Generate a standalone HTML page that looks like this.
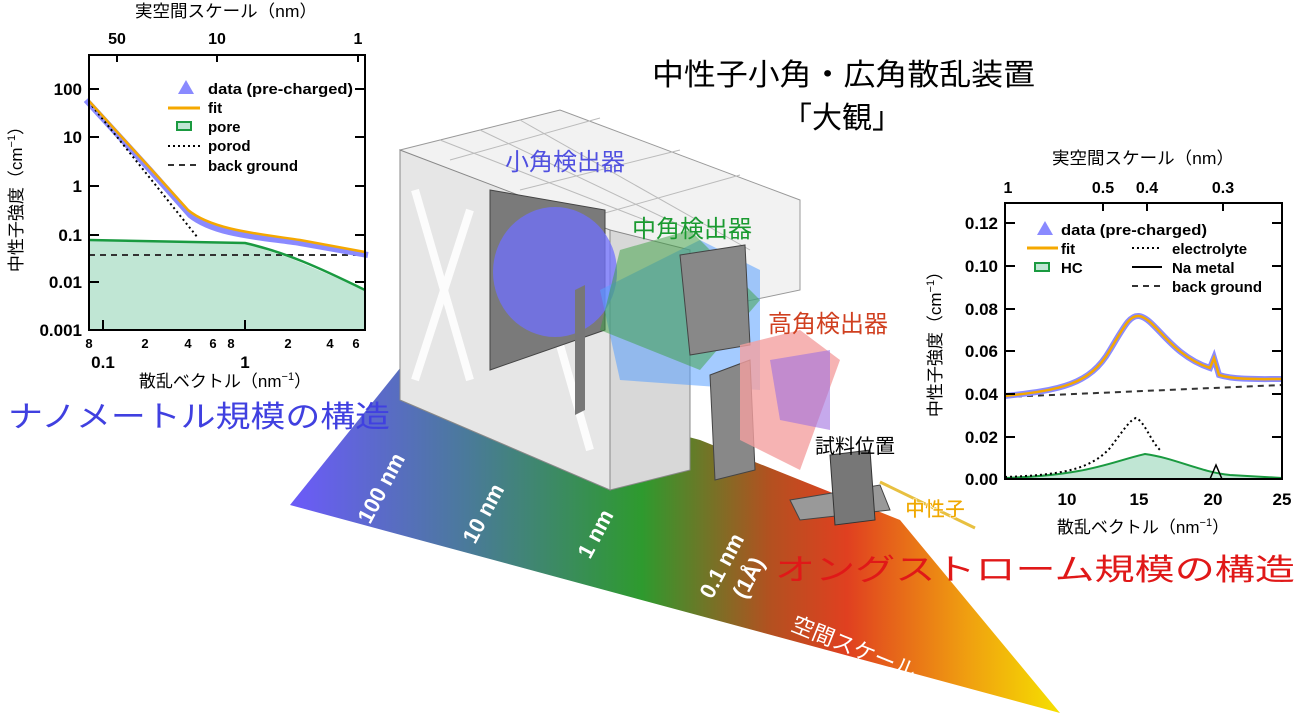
<!DOCTYPE html>
<html><head><meta charset="utf-8"><style>
html,body{margin:0;padding:0;background:#fff;}
svg{display:block;}
text{font-family:"Liberation Sans","Noto Sans CJK JP",sans-serif;}
</style></head><body>
<svg width="1299" height="713" viewBox="0 0 1299 713" xmlns="http://www.w3.org/2000/svg">
<defs>
<linearGradient id="fan" x1="300" y1="0" x2="1060" y2="0" gradientUnits="userSpaceOnUse">
<stop offset="0" stop-color="#6a5cf5"/>
<stop offset="0.22" stop-color="#4a7a9a"/>
<stop offset="0.45" stop-color="#2e9a2e"/>
<stop offset="0.62" stop-color="#b45020"/>
<stop offset="0.72" stop-color="#e04020"/>
<stop offset="0.88" stop-color="#f0a010"/>
<stop offset="1" stop-color="#f5e000"/>
</linearGradient>
</defs>

<polygon points="405,362 700,440 900,520 1060,713 290,505" fill="url(#fan)"/>

<polygon points="400,150 560,110 800,200 800,290 610,330" fill="#f2f2f2" stroke="#999" stroke-width="1"/>
<g stroke="#bbb" stroke-width="1">
<line x1="440" y1="140" x2="650" y2="222"/><line x1="480" y1="130" x2="700" y2="235"/>
<line x1="520" y1="120" x2="750" y2="250"/><line x1="450" y1="160" x2="600" y2="118"/>
<line x1="520" y1="190" x2="680" y2="150"/><line x1="580" y1="220" x2="740" y2="175"/>
</g>
<polygon points="400,150 610,230 610,490 400,400" fill="#e6e6e6" stroke="#888"/>
<polygon points="610,230 690,250 690,470 610,490" fill="#d8d8d8" stroke="#888"/>
<g stroke="#fff" stroke-width="8" opacity="0.9">
<line x1="415" y1="190" x2="470" y2="380"/><line x1="470" y1="210" x2="415" y2="380"/>
<line x1="530" y1="240" x2="590" y2="450"/>
</g>
<polygon points="490,190 605,210 605,330 490,370" fill="#7a7a7a" stroke="#444"/>
<ellipse cx="555" cy="272" rx="62" ry="65" fill="#7070ff" opacity="0.75"/>
<polygon points="600,290 700,240 760,270 760,390 620,380" fill="#5aa0ff" opacity="0.55"/>
<polygon points="620,250 690,230 760,300 700,370 600,330" fill="#3aa040" opacity="0.5"/>
<polygon points="680,255 745,245 750,345 690,355" fill="#888" stroke="#444"/>
<polygon points="575,290 585,285 585,410 575,415" fill="#777"/>
<polygon points="710,375 750,360 755,470 715,480" fill="#888" stroke="#444"/>
<polygon points="740,345 800,330 840,360 800,470 740,440" fill="#f4a0a0" opacity="0.8"/>
<polygon points="770,360 830,350 830,430 780,420" fill="#a070e0" opacity="0.6"/>
<polygon points="790,500 880,485 890,510 800,520" fill="#999" stroke="#444"/>
<polygon points="830,455 870,450 875,520 835,525" fill="#777" stroke="#333"/>
<line x1="880" y1="482" x2="975" y2="528" stroke="#e8c040" stroke-width="3"/>

<text x="652" y="85" font-size="30" textLength="383" lengthAdjust="spacingAndGlyphs">中性子小角・広角散乱装置</text>
<text x="842" y="128" font-size="30" text-anchor="middle">「大観」</text>

<text x="565" y="170" font-size="24" fill="#5050e0" text-anchor="middle">小角検出器</text>
<text x="692" y="237" font-size="24" fill="#1a9a30" text-anchor="middle">中角検出器</text>
<text x="828" y="332" font-size="24" fill="#d04020" text-anchor="middle">高角検出器</text>
<text x="855" y="453" font-size="20" text-anchor="middle">試料位置</text>
<text x="935" y="516" font-size="20" fill="#f0a800" stroke="#fff" stroke-width="0.6" text-anchor="middle" font-weight="bold">中性子</text>

<text x="8" y="427" font-size="30" fill="#4040e0" textLength="382" lengthAdjust="spacingAndGlyphs">ナノメートル規模の構造</text>
<text x="775" y="580" font-size="30" fill="#e01818" textLength="520" lengthAdjust="spacingAndGlyphs">オングストローム規模の構造</text>

<g fill="#fff" font-size="22" font-weight="bold">
<text transform="translate(370,525) rotate(-62)">100 nm</text>
<text transform="translate(475,545) rotate(-62)">10 nm</text>
<text transform="translate(590,560) rotate(-62)">1 nm</text>
<text transform="translate(712,600) rotate(-62)">0.1 nm</text>
<text transform="translate(745,600) rotate(-62)">(1Å)</text>
<text transform="translate(790,630) rotate(22)" font-weight="normal">空間スケール</text>
</g>

<!-- LEFT CHART -->
<g>
<text x="135" y="17" font-size="17" textLength="182" lengthAdjust="spacingAndGlyphs">実空間スケール（nm）</text>
<g font-size="16" font-weight="bold" text-anchor="middle">
<text x="117" y="44">50</text><text x="217" y="44">10</text><text x="358" y="44">1</text>
</g>
<polygon points="89,240 245,243 290,258 330,275 365,290 365,330 89,330" fill="#c0e6d4"/>
<line x1="89" y1="255" x2="365" y2="255" stroke="#333" stroke-width="2" stroke-dasharray="6,5"/>
<path d="M89,240 L245,243 C285,252 320,268 365,290" fill="none" stroke="#1a9a40" stroke-width="2.5"/>
<path d="M86,100 L150,170 L190,215 C215,235 260,237 300,243 L368,255" fill="none" stroke="#8a8aff" stroke-width="6"/>
<line x1="89" y1="102" x2="198" y2="238" stroke="#000" stroke-width="2" stroke-dasharray="2,3"/>
<path d="M89,101 L150,168 L188,210 C212,230 260,234 300,240 L365,252" fill="none" stroke="#f5a800" stroke-width="2.5"/>
<rect x="89" y="55" width="276" height="275" fill="none" stroke="#000" stroke-width="2"/>
<g stroke="#000" stroke-width="2">
<line x1="89" y1="89" x2="99" y2="89"/><line x1="89" y1="137" x2="99" y2="137"/><line x1="89" y1="186" x2="99" y2="186"/><line x1="89" y1="235" x2="99" y2="235"/><line x1="89" y1="282" x2="99" y2="282"/>
<line x1="365" y1="89" x2="355" y2="89"/><line x1="365" y1="137" x2="355" y2="137"/><line x1="365" y1="186" x2="355" y2="186"/><line x1="365" y1="235" x2="355" y2="235"/><line x1="365" y1="282" x2="355" y2="282"/>
<line x1="117" y1="55" x2="117" y2="62"/><line x1="217" y1="55" x2="217" y2="62"/><line x1="358" y1="55" x2="358" y2="62"/>
<line x1="103" y1="330" x2="103" y2="320"/><line x1="245" y1="330" x2="245" y2="320"/>
</g>
<g font-size="17" font-weight="bold" text-anchor="end">
<text x="82" y="95">100</text><text x="82" y="143">10</text><text x="82" y="192">1</text><text x="82" y="241">0.1</text><text x="82" y="288">0.01</text><text x="82" y="336">0.001</text>
</g>
<g font-size="13" font-weight="bold" text-anchor="middle">
<text x="89" y="348">8</text><text x="145" y="348">2</text><text x="188" y="348">4</text><text x="213" y="348">6</text><text x="231" y="348">8</text><text x="288" y="348">2</text><text x="330" y="348">4</text><text x="356" y="348">6</text>
</g>
<g font-size="17" font-weight="bold" text-anchor="middle"><text x="103" y="368">0.1</text><text x="245" y="368">1</text></g>
<text x="225" y="387" font-size="17" text-anchor="middle">散乱ベクトル（nm<tspan font-size="11" dy="-7">−1</tspan><tspan dy="7">）</tspan></text>
<text transform="translate(22,195) rotate(-90)" font-size="17" text-anchor="middle">中性子強度（cm<tspan font-size="11" dy="-7">−1</tspan><tspan dy="7">）</tspan></text>
<polygon points="186,80 178,94 194,94" fill="#8a8aff"/>
<line x1="168" y1="108" x2="200" y2="108" stroke="#f5a800" stroke-width="3"/>
<rect x="177" y="122" width="14" height="8" fill="#c0e6d4" stroke="#1a9a40" stroke-width="2"/>
<line x1="168" y1="146" x2="200" y2="146" stroke="#000" stroke-width="2" stroke-dasharray="2,3"/>
<line x1="168" y1="165" x2="200" y2="165" stroke="#333" stroke-width="2" stroke-dasharray="6,5"/>
<g font-size="15" font-weight="bold">
<text x="208" y="94" textLength="145" lengthAdjust="spacingAndGlyphs">data (pre-charged)</text><text x="208" y="113">fit</text><text x="208" y="132">pore</text><text x="208" y="151">porod</text><text x="208" y="171">back ground</text>
</g>
</g>

<!-- RIGHT CHART -->
<g>
<text x="1052" y="164" font-size="17" textLength="182" lengthAdjust="spacingAndGlyphs">実空間スケール（nm）</text>
<g font-size="16" font-weight="bold" text-anchor="middle">
<text x="1008" y="193">1</text><text x="1103" y="193">0.5</text><text x="1147" y="193">0.4</text><text x="1223" y="193">0.3</text>
</g>
<path d="M1005,478 C1090,475 1110,462 1145,454 C1175,458 1200,472 1230,475 L1282,478 Z" fill="#c0e6d4"/>
<path d="M1005,478 C1090,475 1110,462 1145,454 C1175,458 1200,472 1230,475 L1282,478" fill="none" stroke="#1a9a40" stroke-width="2"/>
<path d="M1005,477 C1060,475 1090,470 1110,448 C1125,428 1130,420 1136,418 C1145,422 1150,440 1160,450" fill="none" stroke="#000" stroke-width="2" stroke-dasharray="2,3"/>
<path d="M1005,479 L1210,479 L1216,465 L1222,479 L1282,479" fill="none" stroke="#000" stroke-width="1.5"/>
<line x1="1005" y1="397" x2="1282" y2="385" stroke="#333" stroke-width="2" stroke-dasharray="6,5"/>
<path d="M1005,396 C1060,390 1090,385 1110,350 C1125,325 1130,315 1139,316 C1155,318 1170,355 1210,368 L1214,358 L1219,375 C1235,380 1260,379 1282,379" fill="none" stroke="#8a8aff" stroke-width="6"/>
<path d="M1005,396 C1060,390 1090,385 1110,350 C1125,325 1130,315 1139,316 C1155,318 1170,355 1210,368 L1214,358 L1219,375 C1235,380 1260,379 1282,379" fill="none" stroke="#f5a800" stroke-width="2.5"/>
<rect x="1005" y="203" width="277" height="276" fill="none" stroke="#000" stroke-width="2"/>
<g stroke="#000" stroke-width="2">
<line x1="1005" y1="223" x2="1015" y2="223"/><line x1="1005" y1="266" x2="1015" y2="266"/><line x1="1005" y1="309" x2="1015" y2="309"/><line x1="1005" y1="351" x2="1015" y2="351"/><line x1="1005" y1="394" x2="1015" y2="394"/><line x1="1005" y1="437" x2="1015" y2="437"/>
<line x1="1282" y1="223" x2="1272" y2="223"/><line x1="1282" y1="266" x2="1272" y2="266"/><line x1="1282" y1="309" x2="1272" y2="309"/><line x1="1282" y1="351" x2="1272" y2="351"/><line x1="1282" y1="394" x2="1272" y2="394"/><line x1="1282" y1="437" x2="1272" y2="437"/>
<line x1="1103" y1="203" x2="1103" y2="211"/><line x1="1147" y1="203" x2="1147" y2="211"/><line x1="1223" y1="203" x2="1223" y2="211"/>
</g>
<g font-size="17" font-weight="bold" text-anchor="end">
<text x="998" y="229">0.12</text><text x="998" y="272">0.10</text><text x="998" y="315">0.08</text><text x="998" y="357">0.06</text><text x="998" y="400">0.04</text><text x="998" y="443">0.02</text><text x="998" y="485">0.00</text>
</g>
<g font-size="17" font-weight="bold" text-anchor="middle">
<text x="1067" y="505">10</text><text x="1139" y="505">15</text><text x="1213" y="505">20</text><text x="1282" y="505">25</text>
</g>
<text x="1143" y="533" font-size="17" text-anchor="middle">散乱ベクトル（nm<tspan font-size="11" dy="-7">−1</tspan><tspan dy="7">）</tspan></text>
<text transform="translate(941,340) rotate(-90)" font-size="17" text-anchor="middle">中性子強度（cm<tspan font-size="11" dy="-7">−1</tspan><tspan dy="7">）</tspan></text>
<polygon points="1045,221 1037,235 1053,235" fill="#8a8aff"/>
<line x1="1027" y1="248" x2="1058" y2="248" stroke="#f5a800" stroke-width="3"/>
<rect x="1035" y="263" width="14" height="8" fill="#c0e6d4" stroke="#1a9a40" stroke-width="2"/>
<line x1="1132" y1="248" x2="1162" y2="248" stroke="#000" stroke-width="2" stroke-dasharray="2,3"/>
<line x1="1132" y1="267" x2="1162" y2="267" stroke="#000" stroke-width="2"/>
<line x1="1132" y1="286" x2="1162" y2="286" stroke="#333" stroke-width="2" stroke-dasharray="6,5"/>
<g font-size="15" font-weight="bold">
<text x="1061" y="235" textLength="146" lengthAdjust="spacingAndGlyphs">data (pre-charged)</text><text x="1061" y="254">fit</text><text x="1061" y="273">HC</text>
<text x="1172" y="254">electrolyte</text><text x="1172" y="273">Na metal</text><text x="1172" y="292">back ground</text>
</g>
</g>
</svg>
</body></html>
